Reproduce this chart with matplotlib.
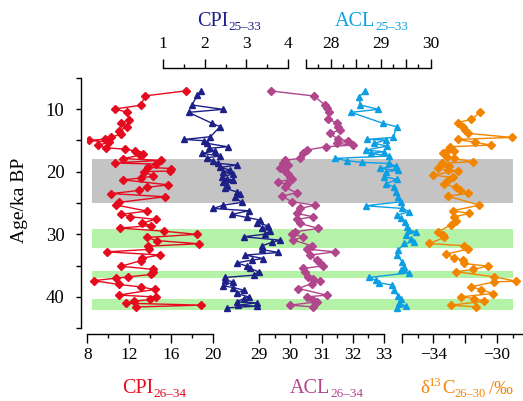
import matplotlib
matplotlib.use('Agg')
import matplotlib.pyplot as plt

# ---------------- data ----------------
red_age = [7.1, 7.9, 9.4, 10.0, 10.5, 11.7, 12.2, 12.8, 13.5, 14.0, 14.5, 14.8, 15.0, 15.3, 15.8,
           16.2, 16.4, 16.7, 17.1, 17.4, 17.9, 18.2, 18.6, 18.8, 19.3, 19.5, 19.9, 20.0, 20.7, 21.0,
           21.3, 22.1, 22.5, 23.0, 23.5, 24.0, 24.9, 25.3, 26.3, 26.8, 27.2, 27.6, 28.2, 28.6, 29.0,
           29.5, 30.0, 30.5, 31.0, 31.5, 31.9, 32.4, 32.8, 33.3, 33.8, 34.2, 35.1, 35.6, 36.0, 36.4,
           36.8, 37.0, 37.4, 38.0, 38.4, 38.8, 39.7, 40.0, 40.4, 40.7, 41.0, 41.3, 41.6]
red_cpi = [17.4, 13.5, 13.1, 10.6, 11.8, 12.0, 11.2, 11.8, 11.0, 11.2, 10.3, 9.7, 8.2, 10.1, 9.0,
           9.8, 11.6, 12.5, 13.3, 13.0, 11.4, 15.0, 10.6, 14.5, 13.8, 16.0, 15.9, 13.4, 14.3, 13.1,
           11.4, 15.7, 13.7, 12.9, 10.3, 15.4, 11.0, 10.7, 13.7, 11.2, 12.1, 14.5, 13.2, 14.1, 11.1,
           15.3, 18.4, 13.7, 14.6, 18.6, 13.8, 13.9, 9.9, 14.9, 13.2, 13.1, 11.2, 14.3, 14.3, 14.1,
           11.9, 10.7, 8.6, 11.0, 13.1, 14.4, 11.0, 14.5, 14.0, 12.4, 11.7, 18.8, 12.6]

blue_age = [7.12, 7.76, 9.36, 10.05, 10.53, 12.29, 12.82, 14.42, 14.85, 15.06, 15.48, 16.02, 16.28,
            16.71, 17.08, 17.51, 17.77, 18.31, 18.68, 18.95, 19.32, 19.74, 20.01, 20.38, 20.81, 21.18,
            21.34, 21.71, 22.14, 22.67, 23.21, 23.58, 24.11, 24.91, 25.34, 25.87, 26.24, 26.83, 27.31,
            27.73, 28.16, 28.64, 29.06, 29.44, 29.97, 30.39, 30.93, 31.30, 31.83, 32.42, 32.90, 33.32,
            33.86, 34.12, 34.55, 35.08, 35.45, 35.98, 36.52, 36.89, 37.32, 37.58, 38.22, 38.49, 38.91,
            39.44, 39.98, 40.25, 40.78, 40.94, 41.31, 41.47, 41.74]
blue_cpi = [1.91, 1.83, 1.70, 2.44, 1.62, 2.18, 2.37, 2.14, 1.52, 1.98, 2.06, 2.55, 2.10,
            2.25, 1.94, 2.37, 2.06, 2.21, 2.33, 2.77, 2.37, 2.61, 2.45, 2.69, 2.41, 2.53,
            2.69, 2.45, 2.53, 2.48, 2.77, 2.85, 2.73, 2.89, 2.45, 2.21, 3.05, 2.65, 3.01,
            3.33, 3.25, 3.52, 3.37, 3.56, 3.45, 2.93, 3.80, 3.60, 3.37, 3.37, 3.76, 2.97,
            3.40, 3.13, 2.77, 3.01, 3.09, 3.29, 3.17, 2.49, 2.49, 2.69, 2.45, 2.69, 2.93,
            2.77, 3.05, 2.93, 2.77, 3.25, 2.81, 3.25, 2.53]

purple_age = [7.12, 7.92, 9.36, 9.79, 10.53, 11.65, 12.18, 12.82, 13.35, 13.89, 14.85, 15.06, 15.48,
              15.75, 16.02, 16.55, 16.98, 17.88, 18.15, 18.68, 18.95, 19.48, 19.90, 20.38, 20.81,
              21.18, 21.61, 22.03, 22.51, 23.37, 23.90, 24.80, 25.34, 25.87, 26.67, 27.20, 27.62,
              28.26, 29.06, 29.60, 29.97, 30.39, 30.93, 31.83, 32.36, 32.79, 33.32, 34.12, 34.55,
              35.03, 35.45, 35.98, 36.78, 37.16, 37.48, 37.85, 38.65, 39.71, 39.98, 40.51, 40.78,
              41.31, 41.58]
purple_acl = [29.38, 30.76, 31.11, 31.17, 31.25, 31.20, 31.49, 31.54, 31.59, 31.27, 31.54, 31.86, 31.49,
              32.02, 31.14, 30.53, 30.42, 30.31, 29.83, 29.78, 29.94, 29.67, 29.83, 29.94, 29.99,
              30.05, 29.62, 29.89, 29.83, 30.21, 29.73, 30.05, 30.79, 30.31, 30.21, 30.74, 30.21,
              30.31, 30.90, 30.15, 30.05, 30.42, 30.10, 30.69, 30.53, 31.43, 30.63, 30.85, 30.95,
              31.06, 30.42, 30.47, 30.58, 30.74, 30.95, 30.69, 30.26, 31.17, 30.53, 30.74, 30.85,
              29.99, 30.74]

cyan_age = [7.12, 8.03, 9.36, 10.05, 10.53, 12.29, 12.82, 14.53, 14.85, 14.95, 15.48, 15.91, 16.55,
            16.82, 17.08, 17.51, 17.88, 18.25, 18.52, 18.68, 19.11, 19.48, 19.80, 20.01, 20.81, 21.23,
            21.98, 22.41, 23.21, 24.00, 24.80, 25.44, 25.87, 26.40, 26.93, 27.47, 28.00, 28.80, 29.33,
            29.60, 30.13, 30.82, 31.19, 31.46, 32.52, 33.32, 34.39, 35.19, 35.72, 36.14, 36.89, 37.32,
            37.74, 38.11, 38.81, 39.87, 40.25, 40.94, 41.47, 41.74]
cyan_acl = [28.69, 28.57, 28.59, 28.95, 28.41, 29.05, 29.32, 29.25, 28.73, 29.10, 28.87, 29.13, 28.70,
            29.07, 28.80, 29.17, 28.08, 28.33, 28.63, 29.17, 29.30, 28.98, 29.35, 29.10, 29.07, 29.32,
            29.10, 29.27, 29.30, 29.35, 29.40, 28.70, 29.43, 29.57, 29.33, 29.40, 29.48, 29.52, 29.57,
            29.70, 29.50, 29.60, 29.67, 29.47, 29.35, 29.33, 29.43, 29.47, 29.40, 29.57, 28.77, 28.90,
            28.97, 29.23, 29.27, 29.35, 29.40, 29.37, 29.50, 29.33]

orange_age = [10.53, 11.65, 12.18, 12.82, 13.35, 13.89, 14.53, 14.85, 15.32, 15.75, 16.02, 16.55, 16.71,
              17.08, 17.72, 17.88, 18.41, 18.68, 19.11, 19.48, 19.74, 19.85, 20.54, 20.92, 21.34, 21.98,
              22.51, 22.94, 23.47, 23.90, 25.34, 26.24, 26.67, 27.20, 27.84, 28.53, 29.60, 30.13, 30.50,
              31.46, 31.83, 32.36, 33.16, 33.75, 34.12, 34.65, 35.08, 35.61, 35.98, 36.78, 37.48, 37.58,
              38.38, 38.81, 39.45, 39.98, 40.25, 40.67, 41.31, 41.58]
orange_d13c = [-31.03, -31.62, -32.46, -32.15, -32.00, -31.83, -29.06, -32.46, -31.37, -30.36, -32.93,
               -33.10, -32.68, -33.41, -33.14, -32.68, -31.52, -33.47, -32.99, -33.73, -33.10, -32.46,
               -34.04, -32.78, -33.10, -33.31, -32.57, -32.30, -31.83, -33.10, -31.10, -32.78, -31.73,
               -32.68, -32.57, -32.89, -33.73, -33.41, -33.31, -34.25, -32.04, -31.83, -33.20, -32.68,
               -32.15, -32.09, -30.57, -31.52, -32.57, -30.15, -28.78, -30.15, -31.62, -30.99, -30.26,
               -32.25, -31.41, -30.78, -32.89, -31.31]

gray_band = [(18.0, 25.0)]
green_bands = [(29.2, 32.2), (35.8, 36.9), (40.4, 42.0)]

y_ticks = [10, 20, 30, 40]

# ---------------- styling ----------------
plt.rcParams['font.family'] = ['Liberation Serif', 'DejaVu Serif']

W, H = 523, 401
fig = plt.figure(figsize=(W / 100, H / 100), dpi=100)

RED = '#E60A1E'
NAVY = '#1D2087'
PURPLE = '#B2468C'
CYAN = '#0D9FE4'
ORANGE = '#F28500'
GRAY = '#C4C4C4'
GREEN = '#B4F2A8'


def rect(x0, x1, ytop, ybot):
    return [x0 / W, 1 - ybot / H, (x1 - x0) / W, (ybot - ytop) / H]


YT, YB = 77.7, 328.3
main = fig.add_axes(rect(81, 513, YT, YB))
main.set_ylim(45, 5)
main.set_xlim(0, 1)
for s in ['top', 'right', 'bottom']:
    main.spines[s].set_visible(False)
main.spines['left'].set_linewidth(1.0)
main.set_xticks([])
main.set_yticks(y_ticks)
main.set_yticks([5, 15, 25, 35, 45], minor=True)
main.tick_params(axis='y', which='both', length=3.8, width=1.0, pad=8, labelsize=13.5)
main.patch.set_visible(False)

xmin_band = (92 - 81) / (513 - 81)
for a, b in gray_band:
    main.axhspan(a, b, xmin=xmin_band, xmax=1, color=GRAY, lw=0, zorder=0)
for a, b in green_bands:
    main.axhspan(a, b, xmin=xmin_band, xmax=1, color=GREEN, lw=0, zorder=0)


def series_axes(x0, x1, lim, pos, majors, minors, labels, offset, pad):
    ax = fig.add_axes(rect(x0, x1, YT, YB), sharey=main)
    ax.patch.set_visible(False)
    for s in ['top', 'bottom', 'left', 'right']:
        ax.spines[s].set_visible(s == pos)
    ax.spines[pos].set_position(('outward', offset))
    ax.spines[pos].set_linewidth(1.0)
    ax.set_xlim(*lim)
    ax.xaxis.set_ticks_position(pos)
    ax.set_xticks(majors, labels=labels)
    ax.set_xticks(minors, minor=True)
    ax.tick_params(axis='x', which='major', length=6.5, width=1.0, pad=pad, labelsize=12.5)
    ax.tick_params(axis='x', which='minor', length=3.0, width=1.0)
    ax.tick_params(axis='y', which='both', left=False, labelleft=False)
    return ax


ax_red = series_axes(87.3, 213.3, (8, 20), 'bottom', [8, 12, 16, 20], [10, 14, 18],
                     ['8', '12', '16', '20'], 4.1, 3.0)
ax_pur = series_axes(259, 384, (29, 33), 'bottom', [29, 30, 31, 32, 33], [29.5, 30.5, 31.5, 32.5],
                     ['29', '30', '31', '32', '33'], 4.1, 3.0)
ax_ora = series_axes(401.7, 401.7 + 8 * 15.85, (-36, -28), 'bottom', [-36, -34, -32, -30, -28],
                     [-35, -33, -31, -29], ['', '\u221234', '', '\u221230', ''], 4.1, 3.0)
ax_blu = series_axes(162.7, 288.3, (1, 4), 'top', [1, 2, 3, 4], [1.5, 2.5, 3.5],
                     ['1', '2', '3', '4'], 6.8, 5.0)
ax_cya = series_axes(305.7, 430.7, (27.5, 30), 'top', [27.5, 28, 28.5, 29, 29.5, 30],
                     [27.75, 28.25, 28.75, 29.25, 29.75], ['', '28', '', '29', '', '30'], 6.8, 5.0)

ax_red.plot(red_cpi, red_age, color=RED, marker='D', ms=3.6, lw=1.0)
ax_blu.plot(blue_cpi, blue_age, color=NAVY, marker='^', ms=4.6, lw=1.0)
ax_pur.plot(purple_acl, purple_age, color=PURPLE, marker='D', ms=3.6, lw=1.0)
ax_cya.plot(cyan_acl, cyan_age, color=CYAN, marker='^', ms=4.6, lw=1.0)
ax_ora.plot(orange_d13c, orange_age, color=ORANGE, marker='D', ms=3.6, lw=1.0)

main.set_ylim(45, 5)

fig.text(20 / W, 1 - 200 / H, 'Age/ka BP', rotation=90, ha='center', va='center', fontsize=14)

DESC = 0.216  # descent of "lp" as fraction of font size (Liberation Serif)


def rich(x, y, parts, color):
    """parts: (text, size_pt, baseline_shift_pt, gap_pt) drawn one after another."""
    s0, sz0, sh0, _ = parts[0]
    prev = fig.text(x / W, 1 - y / H, s0, ha='left', va='baseline', fontsize=sz0, color=color)
    prev_sz, prev_sh = sz0, sh0
    for s, sz, sh, gap in parts[1:]:
        dy = (sh - prev_sh) + DESC * prev_sz
        prev = main.annotate(s, xy=(1, 0), xycoords=prev, xytext=(gap, dy),
                             textcoords='offset points', ha='left', va='baseline',
                             fontsize=sz, color=color, annotation_clip=False)
        prev_sz, prev_sh = sz, sh


BIG, SMALL = 14.5, 9.5
rich(197, 26, [('CPI', BIG, 0, 0), ('25\u201333', SMALL, -2.4, 0.3)], NAVY)
rich(335, 26, [('ACL', BIG, 0, 0), ('25\u201333', SMALL, -2.4, 0.3)], CYAN)
rich(122, 393, [('CPI', BIG, 0, 0), ('26\u201334', SMALL, -2.4, 0.3)], RED)
rich(290, 393, [('ACL', BIG, 0, 0), ('26\u201334', SMALL, -2.4, 0.3)], PURPLE)
rich(420, 393, [('δ', 13.5, 0, 0), ('13', 9.0, 5.2, 0.2), ('C', 13.5, 0, 0), ('26\u201330', 9.0, -2.4, 0.2),
                ('/‰', 13.5, 0, 2.0)], ORANGE)

fig.savefig('out.png', dpi=100)
